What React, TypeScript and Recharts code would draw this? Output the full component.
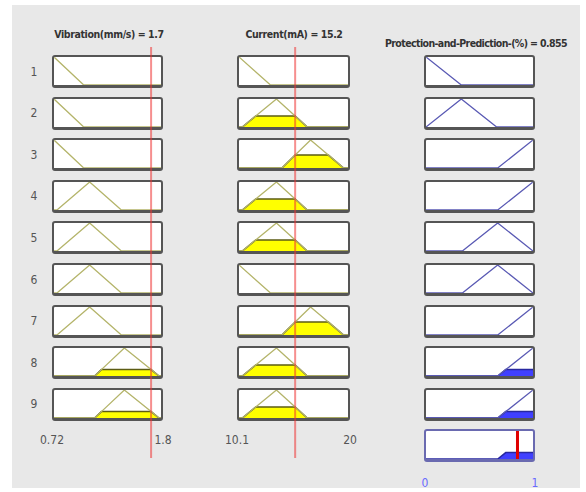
import React from "react";
import { ComposedChart, Line, Area, XAxis, YAxis, ReferenceLine } from "recharts";

const ruleNumbers = ["1", "2", "3", "4", "5", "6", "7", "8", "9"];

const vibrationName = "Vibration(mm/s)";
const currentName = "Current(mA)";
const outputName = "Protection-and-Prediction-(%)";

const vibrationRange = [0.72, 1.8];
const currentRange = [10.1, 20];
const outputRange = [0, 1];

const vibrationInput = 1.7;
const currentInput = 15.2;
const outputResult = 0.855;

// triangular membership functions [a, b, c]
const vibrationLow = [0.42, 0.72, 1.02];
const vibrationMedium = [0.75, 1.08, 1.4];
const vibrationHigh = [1.13, 1.43, 1.78];

const currentLow = [7.2, 10.1, 12.96];
const currentMedium = [10.4, 13.5, 16.3];
const currentHigh = [14.0, 16.6, 19.6];

const outputLow = [-0.33, 0, 0.33];
const outputMidLow = [0, 0.33, 0.66];
const outputMidHigh = [0.34, 0.67, 1];
const outputHigh = [0.67, 1, 1.33];

const ruleVibration = [vibrationLow, vibrationLow, vibrationLow, vibrationMedium, vibrationMedium, vibrationMedium, vibrationMedium, vibrationHigh, vibrationHigh];
const ruleCurrent = [currentLow, currentMedium, currentHigh, currentMedium, currentMedium, currentLow, currentHigh, currentMedium, currentMedium];
const ruleOutput = [outputLow, outputMidLow, outputHigh, outputHigh, outputMidHigh, outputMidHigh, outputHigh, outputHigh, outputHigh];

const vibrationTicks = ["0.72", "1.8"];
const currentTicks = ["10.1", "20"];
const outputTicks = ["0", "1"];

const FONT = "'Liberation Sans Narrow', 'DejaVu Sans Condensed', 'Arial Narrow', sans-serif";

const trimf = (x: number, [a, b, c]: number[]) => {
  if (x === b) return 1;
  if (x <= a || x >= c) return 0;
  return x < b ? (x - a) / (b - a) : (c - x) / (c - b);
};

const inRange = (x: number, range: number[]) => x >= range[0] - 1e-9 && x <= range[1] + 1e-9;

const uniqSorted = (xs: number[]) =>
  Array.from(new Set(xs.map((v) => Math.round(v * 1e6) / 1e6))).sort((p, q) => p - q);

function cellData(mf: number[], range: number[], level: number) {
  const [a, b, c] = mf;
  const xs = uniqSorted(
    [range[0], range[1], a, b, c, a + level * (b - a), c - level * (c - b)].filter((x) => inRange(x, range))
  );
  return xs.map((x) => ({
    x,
    mf: trimf(x, mf),
    fill: Math.min(trimf(x, mf), level),
  }));
}

const vibDegree = ruleVibration.map((mf) => trimf(vibrationInput, mf));
const curDegree = ruleCurrent.map((mf) => trimf(currentInput, mf));
const ruleStrength = vibDegree.map((d, i) => Math.min(d, curDegree[i]));

function aggregateData() {
  let xs: number[] = [outputRange[0], outputRange[1]];
  ruleOutput.forEach((mf, i) => {
    const h = ruleStrength[i];
    if (h <= 0) return;
    const [a, b, c] = mf;
    xs.push(a, b, c, a + h * (b - a), c - h * (c - b));
  });
  xs = uniqSorted(xs.filter((x) => inRange(x, outputRange)));
  return xs.map((x) => ({
    x,
    agg: Math.max(0, ...ruleOutput.map((mf, i) => Math.min(trimf(x, mf), ruleStrength[i]))),
  }));
}

const BOX_H = 33;
const ROW_TOP = 55;
const ROW_PITCH = 41.6;

const columns = [
  { left: 52, width: 111, range: vibrationRange, rules: ruleVibration, degree: vibDegree, line: "#b4b46a", fill: "#ffff00", fillStroke: "#5c5c14" },
  { left: 237, width: 113, range: currentRange, rules: ruleCurrent, degree: curDegree, line: "#b4b46a", fill: "#ffff00", fillStroke: "#5c5c14" },
  { left: 424, width: 111, range: outputRange, rules: ruleOutput, degree: ruleStrength, line: "#5a5ab4", fill: "#4040ff", fillStroke: "#2828a0" },
];

function Cell({ left, top, width, range, mf, level, line, fill, fillStroke }: any) {
  const data = cellData(mf, range, level);
  return (
    <div
      style={{
        position: "absolute",
        left,
        top,
        width,
        height: BOX_H,
        boxSizing: "border-box",
        border: "2px solid #555",
        borderBottomWidth: 3,
        borderRadius: 3,
        background: "#fff",
        overflow: "hidden",
      }}
    >
      <ComposedChart width={width - 4} height={BOX_H - 5} data={data} margin={{ top: 0, right: 0, bottom: 0, left: 0 }}>
        <XAxis type="number" dataKey="x" domain={range} hide />
        <YAxis type="number" domain={[0, 1]} hide />
        {level > 0 && (
          <Area type="linear" dataKey="fill" fill={fill} fillOpacity={1} stroke={fillStroke} strokeWidth={1.5} isAnimationActive={false} />
        )}
        <Line type="linear" dataKey="mf" stroke={line} strokeWidth={1.3} dot={false} isAnimationActive={false} />
      </ComposedChart>
    </div>
  );
}

function InputMarker({ left, width, range, value }: any) {
  return (
    <div style={{ position: "absolute", left: left + 2, top: 47, pointerEvents: "none" }}>
      <ComposedChart
        width={width - 4}
        height={411}
        data={[{ x: range[0], y: 0 }, { x: range[1], y: 0 }]}
        margin={{ top: 0, right: 0, bottom: 0, left: 0 }}
      >
        <XAxis type="number" dataKey="x" domain={range} hide />
        <YAxis type="number" domain={[0, 1]} hide />
        <Line type="linear" dataKey="y" stroke="none" dot={false} isAnimationActive={false} />
        <ReferenceLine x={value} stroke="#ee3333" strokeOpacity={0.55} strokeWidth={2} />
      </ComposedChart>
    </div>
  );
}

function Label({ cx, cy, text, size = 11, bold = false, color = "#333", spacing = 0 }: any) {
  return (
    <div
      style={{
        position: "absolute",
        left: cx - 120,
        top: cy - 7,
        width: 240,
        height: 14,
        lineHeight: "14px",
        textAlign: "center",
        fontSize: size,
        fontWeight: bold ? 700 : 400,
        letterSpacing: spacing,
        color,
        whiteSpace: "nowrap",
      }}
    >
      {text}
    </div>
  );
}

export default function App() {
  const agg = aggregateData();
  const aggTop = ROW_TOP + 9 * ROW_PITCH;
  const out = columns[2];
  return (
    <div style={{ position: "absolute", left: 0, top: 0, width: 586, height: 492, background: "#fff", fontFamily: FONT, overflow: "hidden" }}>
      <div style={{ position: "absolute", left: 12, top: 5, width: 568, height: 483, background: "#e8e8e8" }} />

      <Label cx={109} cy={34} text={`${vibrationName} = ${vibrationInput}`} bold size={10.5} spacing={-0.4} />
      <Label cx={294} cy={34} text={`${currentName} = ${currentInput}`} bold size={10.5} spacing={-0.4} />
      <Label cx={476} cy={43} text={`${outputName} = ${outputResult}`} bold size={10.5} spacing={-0.6} />

      {ruleNumbers.map((n, i) => (
        <Label key={n} cx={34} cy={ROW_TOP + i * ROW_PITCH + BOX_H / 2} text={n} size={12} color="#555" />
      ))}

      {columns.map((col, ci) =>
        col.rules.map((mf, i) => (
          <Cell
            key={`${ci}-${i}`}
            left={col.left}
            top={ROW_TOP + i * ROW_PITCH}
            width={col.width}
            range={col.range}
            mf={mf}
            level={col.degree[i]}
            line={col.line}
            fill={col.fill}
            fillStroke={col.fillStroke}
          />
        ))
      )}

      <div
        style={{
          position: "absolute",
          left: out.left,
          top: aggTop,
          width: out.width,
          height: BOX_H,
          boxSizing: "border-box",
          border: "2px solid #6a6ab0",
          borderBottomWidth: 3,
          borderRadius: 3,
          background: "#fff",
          overflow: "hidden",
        }}
      >
        <ComposedChart width={out.width - 4} height={BOX_H - 5} data={agg} margin={{ top: 0, right: 0, bottom: 0, left: 0 }}>
          <XAxis type="number" dataKey="x" domain={outputRange} hide />
          <YAxis type="number" domain={[0, 1]} hide />
          <Area type="linear" dataKey="agg" fill="#4040ff" fillOpacity={1} stroke="#2828a0" strokeWidth={1.5} isAnimationActive={false} />
          <ReferenceLine x={outputResult} stroke="#e00000" strokeWidth={3} />
        </ComposedChart>
      </div>

      <InputMarker left={columns[0].left} width={columns[0].width} range={vibrationRange} value={vibrationInput} />
      <InputMarker left={columns[1].left} width={columns[1].width} range={currentRange} value={currentInput} />

      <Label cx={52} cy={440} text={vibrationTicks[0]} size={12} color="#555" />
      <Label cx={163} cy={440} text={vibrationTicks[1]} size={12} color="#555" />
      <Label cx={237} cy={440} text={currentTicks[0]} size={12} color="#555" />
      <Label cx={350} cy={440} text={currentTicks[1]} size={12} color="#555" />
      <Label cx={425} cy={483} text={outputTicks[0]} size={12} color="#6a6aff" />
      <Label cx={535} cy={483} text={outputTicks[1]} size={12} color="#6a6aff" />
    </div>
  );
}
